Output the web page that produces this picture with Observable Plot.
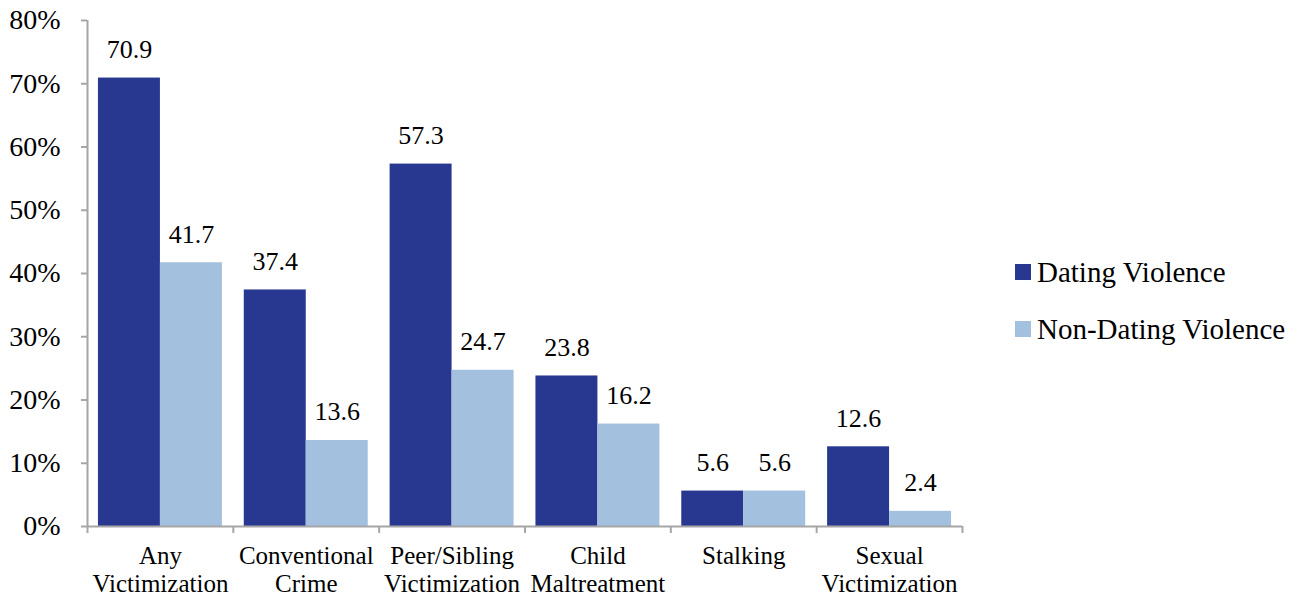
<!DOCTYPE html>
<html>
<head>
<meta charset="utf-8">
<script src="https://cdn.jsdelivr.net/npm/d3@7"></script>
<script src="https://cdn.jsdelivr.net/npm/@observablehq/plot@0.6"></script>
<style>
  html, body { margin: 0; padding: 0; background: #fff; }
  #wrap { position: relative; width: 1311px; height: 595px; font-family: "Liberation Serif", "Times New Roman", Times, "DejaVu Serif", serif; }
  #wrap svg, #wrap svg text { font-family: "Liberation Serif", "Times New Roman", Times, "DejaVu Serif", serif !important; }
  #legend { position: absolute; left: 1015px; top: 253px; font-size: 29px; color: #000; }
  .item { display: flex; align-items: center; height: 38px; margin-bottom: 19px; white-space: nowrap; }
  .sw { width: 16px; height: 16px; margin-right: 6px; flex: none; }
</style>
</head>
<body>
<div id="wrap"></div>
<script>
const categories = ["Any\nVictimization", "Conventional\nCrime", "Peer/Sibling\nVictimization", "Child\nMaltreatment", "Stalking", "Sexual\nVictimization"];
const seriesNames = ["Dating Violence", "Non-Dating Violence"];
const datingViolence = [70.9, 37.4, 57.3, 23.8, 5.6, 12.6];
const nonDatingViolence = [41.7, 13.6, 24.7, 16.2, 5.6, 2.4];
const yTicks = [0, 10, 20, 30, 40, 50, 60, 70, 80];
const colors = ["#283891", "#a3c0df"];

const idx = d3.range(categories.length);
const dark = idx.map(i => ({i, v: datingViolence[i]}));
const light = idx.map(i => ({i, v: nonDatingViolence[i]}));
const gray = "#a6a6a6";
const pad = 0.075;
const serif = "'Liberation Serif', 'Times New Roman', Times, 'DejaVu Serif', serif";

const chart = Plot.plot({
  width: 1311,
  height: 595,
  marginLeft: 87,
  marginRight: 349,
  marginTop: 20,
  marginBottom: 69,
  style: {fontFamily: serif, background: "white", color: "black", overflow: "visible"},
  x: {type: "linear", domain: [0, categories.length], axis: null},
  y: {domain: [0, 80], axis: null},
  marks: [
    Plot.rectY(dark, {x1: d => d.i + pad, x2: d => d.i + 0.5, y1: 0, y2: "v", fill: colors[0]}),
    Plot.rectY(light, {x1: d => d.i + 0.5, x2: d => d.i + 1 - pad, y1: 0, y2: "v", fill: colors[1]}),
    Plot.text(dark, {x: d => d.i + (pad + 0.5) / 2, y: "v", text: d => d.v.toFixed(1), dy: -20, lineAnchor: "bottom", fontSize: 26, fill: "black"}),
    Plot.text(light, {x: d => d.i + (1.5 - pad) / 2, y: "v", text: d => d.v.toFixed(1), dy: -20, lineAnchor: "bottom", fontSize: 26, fill: "black"}),
    Plot.ruleX([0], {y1: 0, y2: 80, stroke: gray, strokeWidth: 2}),
    Plot.ruleY([0], {x1: 0, x2: categories.length, stroke: gray, strokeWidth: 2}),
    Plot.axisY(yTicks, {tickSize: 6, tickPadding: 21, tickFormat: d => d + "%", fontSize: 28, stroke: gray, fill: "black", strokeWidth: 2, label: null}),
    Plot.axisX(d3.range(categories.length + 1), {tickSize: 7, tickFormat: () => "", stroke: gray, strokeWidth: 2, label: null}),
    Plot.text(idx, {x: i => i + 0.5, y: 0, text: i => categories[i], dy: 18, lineAnchor: "top", fontSize: 25, lineHeight: 1.1, fill: "black"})
  ]
});

const wrap = document.getElementById("wrap");
wrap.appendChild(chart);
const legend = document.createElement("div");
legend.id = "legend";
seriesNames.forEach((name, k) => {
  const item = document.createElement("div");
  item.className = "item";
  const sw = document.createElement("span");
  sw.className = "sw";
  sw.style.background = colors[k];
  const label = document.createElement("span");
  label.textContent = name;
  item.appendChild(sw);
  item.appendChild(label);
  legend.appendChild(item);
});
wrap.appendChild(legend);
</script>
</body>
</html>
